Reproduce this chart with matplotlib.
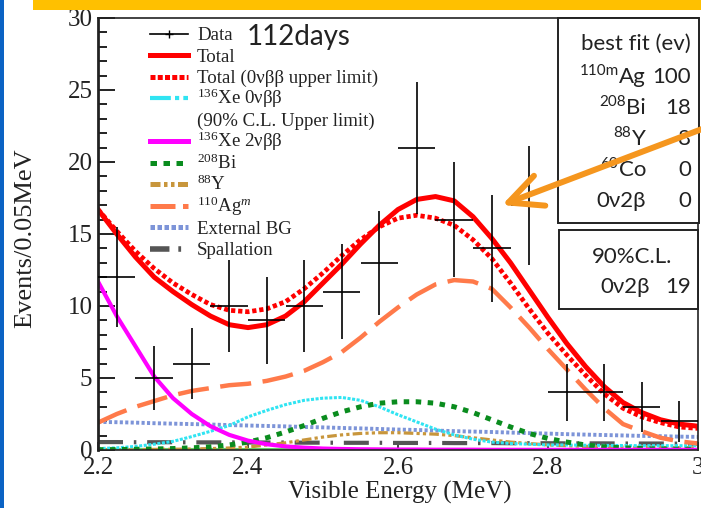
import numpy as np
import matplotlib.pyplot as plt
from matplotlib.lines import Line2D
from matplotlib.patches import Rectangle
from matplotlib.text import Annotation

plt.rcParams['font.family'] = ['Liberation Serif', 'DejaVu Serif']
plt.rcParams['mathtext.fontset'] = 'custom'
plt.rcParams['mathtext.rm'] = 'Liberation Serif'
plt.rcParams['mathtext.it'] = 'Liberation Serif:italic'

W, H = 701, 508
SANS = ['Lato', 'DejaVu Sans']

# measured spectrum, 0.05 MeV bins
bin_centers = [2.225, 2.275, 2.325, 2.375, 2.425, 2.475, 2.525, 2.575,
               2.625, 2.675, 2.725, 2.775, 2.825, 2.875, 2.925, 2.975]
counts = [12, 5, 6, 10, 9, 10, 11, 13, 21, 16, 14, 17, 4, 4, 3, 2]

# fit components, sampled every 0.025 MeV from 2.2 to 3.0
energy = np.round(np.arange(33) * 0.025 + 2.2, 3)
total = [16.7, 15.0, 13.4, 12.0, 11.0, 10.1, 9.3, 8.7, 8.5, 8.7, 9.3, 10.3,
         11.6, 12.9, 14.3, 15.6, 16.7, 17.4, 17.6, 17.3, 16.2, 14.7, 13.0, 11.1,
         9.2, 7.4, 5.8, 4.4, 3.3, 2.6, 2.1, 1.8, 1.65]
total_ul = [16.7, 15.2, 13.8, 12.6, 11.6, 10.8, 10.1, 9.7, 9.6, 9.8, 10.3, 11.2,
            12.3, 13.5, 14.6, 15.5, 16.1, 16.3, 16.1, 15.6, 14.6, 13.3, 11.6, 9.8,
            8.1, 6.6, 5.2, 3.9, 2.9, 2.3, 1.9, 1.6, 1.5]
xe_0nbb = [0.1, 0.15, 0.25, 0.4, 0.6, 0.93, 1.3, 1.7, 2.3, 2.75, 3.15, 3.45,
           3.6, 3.65, 3.45, 3.0, 2.45, 1.95, 1.45, 1.05, 0.75, 0.55, 0.45, 0.4,
           0.35, 0.35, 0.33, 0.32, 0.31, 0.3, 0.3, 0.3, 0.3]
xe_2nbb = [11.7, 9.3, 7.2, 5.1, 3.6, 2.5, 1.65, 1.05, 0.65, 0.4, 0.25, 0.16,
           0.1, 0.07, 0.05, 0.04, 0.03, 0.03, 0.02, 0.02, 0.02, 0.01, 0.01, 0.01,
           0.01, 0.01, 0.01, 0.01, 0.01, 0.01, 0.01, 0.01, 0.01]
bi208 = [0.02, 0.03, 0.05, 0.07, 0.1, 0.15, 0.22, 0.35, 0.55, 0.85, 1.25, 1.7,
         2.2, 2.65, 3.0, 3.25, 3.35, 3.35, 3.25, 3.0, 2.6, 2.1, 1.6, 1.15,
         0.8, 0.55, 0.35, 0.22, 0.15, 0.1, 0.07, 0.05, 0.04]
y88 = [0.02, 0.02, 0.03, 0.04, 0.05, 0.07, 0.1, 0.14, 0.2, 0.35, 0.5, 0.7,
       0.9, 1.05, 1.15, 1.2, 1.2, 1.15, 1.1, 1.0, 0.85, 0.7, 0.55, 0.45,
       0.35, 0.3, 0.25, 0.22, 0.2, 0.18, 0.17, 0.16, 0.15]
ag110m = [1.9, 2.5, 3.0, 3.4, 3.8, 4.1, 4.3, 4.5, 4.6, 4.8, 5.1, 5.5,
          6.1, 6.8, 7.8, 8.9, 9.9, 10.8, 11.5, 11.8, 11.7, 11.2, 9.9, 8.5,
          7.0, 5.6, 4.2, 2.9, 1.8, 1.3, 0.85, 0.6, 0.45]
external_bg = [1.95, 1.93, 1.9, 1.86, 1.83, 1.8, 1.77, 1.73, 1.7, 1.67, 1.64, 1.6,
               1.57, 1.53, 1.5, 1.46, 1.42, 1.39, 1.35, 1.31, 1.28, 1.25, 1.21, 1.17,
               1.14, 1.1, 1.07, 1.04, 1.01, 0.98, 0.96, 0.93, 0.91]
spallation = [0.55, 0.55, 0.54, 0.54, 0.54, 0.53, 0.53, 0.53, 0.52, 0.52, 0.52, 0.51,
              0.51, 0.5, 0.5, 0.5, 0.49, 0.49, 0.49, 0.48, 0.48, 0.48, 0.47, 0.47,
              0.47, 0.46, 0.46, 0.46, 0.45, 0.45, 0.45, 0.44, 0.44]
co60 = [0.04] * 33

fit_labels = [('Ag', '110m'), ('Bi', '208'), ('Y', '88'), ('Co', '60'), ('0ν2β', '')]
fit_values = [100, 18, 8, 0, 0]
ul_value = 19

RED = '#FF0000'
CYAN = '#30E4F2'
MAGENTA = '#FF00FF'
GREEN = '#0A8C1E'
GOLD = '#C8963C'
ORANGE = '#FF7A4A'
BLUE = '#7D94D8'
GREY = '#555555'
INK = '#222222'


def fx(px):
    return px / W


def fy(py):
    return 1 - py / H


fig = plt.figure(figsize=(W / 100, H / 100), dpi=100)
fig.patch.set_facecolor('white')

# slide decoration
fig.add_artist(Rectangle((0, 0), fx(3.5), 1, transform=fig.transFigure,
                         color='#0B63C4', lw=0))
fig.add_artist(Rectangle((fx(33), fy(9.5)), 1 - fx(33), 9.5 / H,
                         transform=fig.transFigure, color='#FFC000', lw=0))

ax = fig.add_axes([fx(98), fy(450), 600 / W, 432 / H])

ax.plot(energy, co60, color='#66D066', lw=1.5)
ax.plot(energy, spallation, color=GREY, lw=3, ls=(0, (6, 2.6, 0.6, 2.6)))
ax.plot(energy, external_bg, color=BLUE, lw=2.8, ls=(0, (0.8, 0.6)))
ax.plot(energy, y88, color=GOLD, lw=2.3, ls=(0, (3, 1, 1, 1, 1, 1)))
ax.plot(energy, xe_0nbb, color=CYAN, lw=2.2, ls=(0, (1, 0.5)))
ax.plot(energy, bi208, color=GREEN, lw=3.6, ls=(0, (1.1, 1.3)))
ax.plot(energy, xe_2nbb, color=MAGENTA, lw=3)
ax.plot(energy, ag110m, color=ORANGE, lw=3.2, ls=(0, (7, 2.6)))
ax.plot(energy, total_ul, color=RED, lw=3.4, ls=(0, (0.9, 0.6)))
ax.plot(energy, total, color=RED, lw=3.6)
ax.errorbar(bin_centers, counts, xerr=0.025, yerr=np.sqrt(counts), fmt='none',
            ecolor='black', elinewidth=1.2, capsize=0, zorder=5)

ax.set_xlim(2.2, 3.0)
ax.set_ylim(0, 30)
ax.set_xticks([2.2, 2.4, 2.6, 2.8, 3.0], ['2.2', '2.4', '2.6', '2.8', '3'])
ax.set_yticks(range(0, 31, 5))
ax.set_yticks(range(0, 31), minor=True)
ax.tick_params(axis='both', which='both', direction='in', labelsize=18,
               colors=INK)
ax.tick_params(axis='y', which='major', length=12, width=1.4, pad=4)
ax.tick_params(axis='y', which='minor', length=6.5, width=1.4)
ax.tick_params(axis='x', which='major', length=6, width=1.2, pad=5)
for side, spine in ax.spines.items():
    spine.set_color(INK)
    spine.set_linewidth(2 if side == 'left' else 1.2)

fig.text(fx(25), fy(238), 'Events/0.05MeV', rotation=90, ha='center',
         va='center', fontsize=19, color=INK)
fig.text(fx(400), fy(492), 'Visible Energy (MeV)', ha='center', va='center',
         fontsize=18, color=INK)

# legend
legend_rows = [
    ('Data', dict(color='black', lw=1.2, marker='+', ms=6, markevery=[1])),
    ('Total', dict(color=RED, lw=3.6)),
    ('Total (0νββ upper limit)', dict(color=RED, lw=3.6, ls=(0, (1, 0.45)))),
    (r'$^{\mathrm{136}}$Xe 0νββ', dict(color=CYAN, lw=3, ls=(0, (5, 1, 1, 1)))),
    ('(90% C.L. Upper limit)', None),
    (r'$^{\mathrm{136}}$Xe 2νββ', dict(color=MAGENTA, lw=3.6)),
    (r'$^{\mathrm{208}}$Bi', dict(color=GREEN, lw=3.6, ls=(0, (1.3, 1.3)))),
    (r'$^{\mathrm{88}}$Y', dict(color=GOLD, lw=3.6, ls=(0, (2, 0.7, 0.7, 0.7, 0.7, 0.7)))),
    (r'$^{\mathrm{110}}$Ag$^{m}$', dict(color=ORANGE, lw=3.6, ls=(0, (5, 1.5)))),
    ('External BG', dict(color=BLUE, lw=3.6, ls=(0, (0.9, 0.5)))),
    ('Spallation', dict(color=GREY, lw=4, ls=(0, (3.5, 1.6, 0.5, 1.6)))),
]
for i, (label, style) in enumerate(legend_rows):
    base = 40 + 21.5 * i
    if style:
        fig.add_artist(Line2D([fx(150), fx(169), fx(188)], [fy(base - 6.5)] * 3,
                              transform=fig.transFigure, **style))
    fig.text(fx(197), fy(base), label, va='baseline', fontsize=13.6, color=INK)

fig.text(fx(247), fy(45), '112days', va='baseline', fontsize=20,
         family=SANS, color=INK)

# fit result boxes
fig.add_artist(Rectangle((fx(558), fy(223)), 141 / W, 205 / H,
                         transform=fig.transFigure, fc='white', ec=INK,
                         lw=1.4, zorder=2))
fig.add_artist(Rectangle((fx(559), fy(309)), 139 / W, 79 / H,
                         transform=fig.transFigure, fc='white', ec=INK,
                         lw=1.4, zorder=2))

box_font = dict(fontsize=16, family=SANS, color=INK, va='baseline', zorder=4)
fig.text(fx(691), fy(50), 'best fit (ev)', ha='right', **box_font)
for i, ((elem, mass), value) in enumerate(zip(fit_labels, fit_values)):
    base = 83 + 31 * i
    t = fig.text(fx(646), fy(base), elem, ha='right', **box_font)
    if mass:
        fig.add_artist(Annotation(mass, xy=(0, 1), xycoords=t, xytext=(-0.5, 2.5),
                                  textcoords='offset points', ha='right',
                                  va='top', fontsize=11, family=SANS,
                                  color=INK, zorder=4))
    fig.text(fx(691), fy(base), str(value), ha='right', **box_font)

fig.text(fx(632), fy(263), '90%C.L.', ha='center', **box_font)
fig.text(fx(650), fy(293), '0ν2β', ha='right', **box_font)
fig.text(fx(691), fy(293), str(ul_value), ha='right', **box_font)

# pointer to the peak
fig.add_artist(Annotation('', xy=(502, H - 205), xycoords='figure pixels',
                          xytext=(760, H - 107), textcoords='figure pixels',
                          arrowprops=dict(arrowstyle='->,head_length=2.4,head_width=1.15',
                                          lw=4.3, color='#F5961E', mutation_scale=10,
                                          shrinkA=0, shrinkB=0),
                          annotation_clip=False, zorder=10))

fig.savefig('out.png', dpi=100)
